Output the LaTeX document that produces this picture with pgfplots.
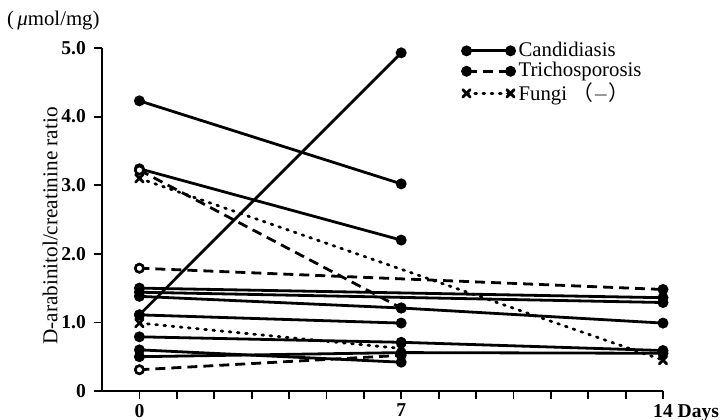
\documentclass[border=0pt]{standalone}
\usepackage{fontspec}
\setmainfont{Liberation Serif}
\newfontfamily\cjk{Noto Sans CJK JP}
\usepackage{pgfplots}
\pgfplotsset{compat=1.18}
\begin{document}
\begin{tikzpicture}[x=1pt,y=1pt]
\path[use as bounding box] (0,0) rectangle (361.5,209.5);
\begin{axis}[
  at={(51pt,14pt)}, anchor=south west,
  scale only axis, width=280.5pt, height=171.5pt,
  xmin=-1, xmax=14, ymin=0, ymax=5,
  axis x line=bottom, axis y line=left,
  x axis line style={-}, y axis line style={-},
  axis line style={line width=1pt},
  xtick={0,7,14}, xticklabels={0,7,{14\rlap{ Days}}},
  minor xtick={1,2,3,4,5,6,8,9,10,11,12,13},
  ytick={0,1,2,3,4,5}, yticklabels={0,1.0,2.0,3.0,4.0,5.0},
  tick align=outside,
  major tick length=4pt, minor tick length=4pt,
  every tick/.style={line width=0.9pt, black},
  ticklabel style={font=\bfseries\fontsize{9.8}{11}\selectfont},
  xticklabel style={yshift=1pt},
  yticklabel style={xshift=-0.5pt},
  clip=false,
  legend style={draw=none, fill=none, at={(0.642,1.03)}, anchor=north west,
    font=\fontsize{10.4}{12}\selectfont, row sep=-2.5pt, inner sep=0pt},
  legend cell align=left,
  legend image code/.code={\draw[#1] plot coordinates {(0pt,0pt) (22pt,0pt)};},
  every axis plot/.append style={line width=1.4pt, black},
]
\pgfplotsset{
  cand/.style={solid, mark=*, mark size=2pt},
  trich/.style={dash pattern=on 5pt off 3pt, mark=*, mark size=2pt, mark options={solid}},
  fung/.style={dash pattern=on 0.9pt off 3.2pt, line cap=round, mark=x, mark size=2.6pt, mark options={solid, line width=1.4pt}},
}
\addlegendimage{cand}
\addlegendentry{Candidiasis}
\addlegendimage{trich}
\addlegendentry{Trichosporosis}
\addlegendimage{fung}
\addlegendentry{Fungi {\cjk （}$-${\cjk ）}}
% Candidiasis
\addplot[cand, forget plot] coordinates {(0,4.23) (7,3.02)};
\addplot[cand, forget plot] coordinates {(0,1.11) (7,4.93)};
\addplot[cand, forget plot] coordinates {(0,3.24) (7,2.20)};
\addplot[cand, forget plot] coordinates {(0,1.50) (14,1.36)};
\addplot[cand, forget plot] coordinates {(0,1.44) (14,1.29)};
\addplot[cand, forget plot] coordinates {(0,1.38) (7,1.21) (14,0.99)};
\addplot[cand, forget plot] coordinates {(0,1.11) (7,0.99)};
\addplot[cand, forget plot] coordinates {(0,0.79) (7,0.71) (14,0.59)};
\addplot[cand, forget plot] coordinates {(0,0.60) (7,0.42)};
\addplot[cand, forget plot] coordinates {(0,0.50) (7,0.56) (14,0.55)};
% Trichosporosis
\addplot[trich, forget plot] coordinates {(0,3.22) (7,1.21)};
\addplot[trich, forget plot] coordinates {(0,1.79) (14,1.48)};
\addplot[trich, forget plot] coordinates {(0,0.31) (7,0.52)};
\addplot[only marks, mark=*, mark size=2pt, mark options={fill=white, line width=1.2pt}, forget plot] coordinates {(0,3.22) (0,1.79) (0,0.31)};
% Fungi (-)
\addplot[fung, forget plot] coordinates {(0,3.10) (14,0.45)};
\addplot[fung, forget plot] coordinates {(0,0.99) (7,0.62)};
\end{axis}
\node[rotate=90, font=\fontsize{10.6}{12}\selectfont] at (25,96.5) {D-arabinitol/creatinine ratio};
\node[anchor=west, font=\fontsize{10.4}{12}\selectfont] at (0,199) {(\,\textit{μ}mol/mg)};
\end{tikzpicture}
\end{document}
